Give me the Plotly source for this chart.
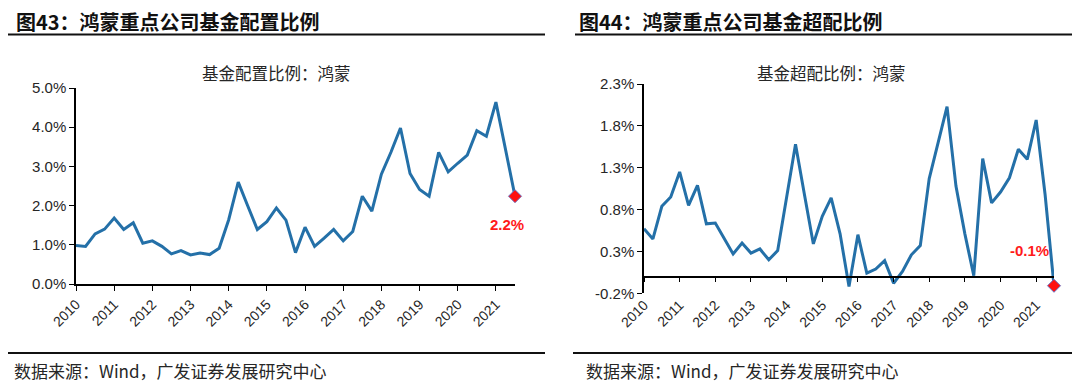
import plotly.graph_objects as go

# ---------------- data ----------------
years = ["2010", "2011", "2012", "2013", "2014", "2015", "2016", "2017", "2018", "2019", "2020", "2021"]
quarters = [f"{y}Q{q}" for y in range(2010, 2022) for q in range(1, 5)][:47]  # 2010Q1 .. 2021Q3

alloc = [0.98, 0.96, 1.28, 1.40, 1.68, 1.39, 1.56, 1.04, 1.10, 0.96, 0.77, 0.85,
         0.74, 0.79, 0.75, 0.91, 1.64, 2.60, 1.99, 1.39, 1.59, 1.94, 1.63, 0.80,
         1.45, 0.96, 1.17, 1.39, 1.10, 1.34, 2.24, 1.86, 2.80, 3.36, 3.98, 2.82,
         2.41, 2.24, 3.36, 2.86, 3.08, 3.29, 3.91, 3.77, 4.64, 3.44, 2.24]

over = [0.57, 0.45, 0.84, 0.95, 1.25, 0.85, 1.09, 0.63, 0.64, 0.46, 0.27, 0.40,
        0.28, 0.33, 0.20, 0.31, 0.92, 1.58, 0.98, 0.39, 0.72, 0.94, 0.51, -0.12,
        0.50, 0.04, 0.09, 0.19, -0.08, 0.06, 0.26, 0.37, 1.17, 1.61, 2.03, 1.08,
        0.51, 0.01, 1.41, 0.88, 1.01, 1.18, 1.52, 1.40, 1.87, 0.98, -0.11]

left_yticks = [0, 1, 2, 3, 4, 5]
right_yticks = [-0.2, 0.3, 0.8, 1.3, 1.8, 2.3]

title_left = "图43：鸿蒙重点公司基金配置比例"
title_right = "图44：鸿蒙重点公司基金超配比例"
sub_left = "基金配置比例：鸿蒙"
sub_right = "基金超配比例：鸿蒙"
source = "数据来源：Wind，广发证券发展研究中心"

# ---------------- figure ----------------
OFF = 8  # page body margin
W, H = 1080 - OFF, 388 - OFF
def px(x):
    return (x - OFF) / W
def py(y):
    return (H - (y - OFF)) / H

xi = list(range(len(quarters)))
tickvals = xi[::4]
LINE = "#2470A8"
TXT = "#262626"
CJK = "Noto Sans CJK SC"
LAT = "Liberation Sans, Arial, sans-serif"

fig = go.Figure()
fig.add_trace(go.Scatter(x=xi, y=alloc, mode="lines", line=dict(color=LINE, width=3),
                         xaxis="x", yaxis="y", hoverinfo="skip", showlegend=False))
fig.add_trace(go.Scatter(x=[xi[-1]], y=[alloc[-1]], mode="markers", cliponaxis=False,
                         marker=dict(symbol="diamond", size=10, color="#FF1010",
                                     line=dict(color="#6A6FC0", width=1)),
                         xaxis="x", yaxis="y", showlegend=False))
fig.add_trace(go.Scatter(x=xi, y=over, mode="lines", line=dict(color=LINE, width=3),
                         xaxis="x2", yaxis="y2", hoverinfo="skip", showlegend=False))
fig.add_trace(go.Scatter(x=[xi[-1]], y=[over[-1]], mode="markers", cliponaxis=False,
                         marker=dict(symbol="diamond", size=10, color="#FF1010",
                                     line=dict(color="#6A6FC0", width=1)),
                         xaxis="x2", yaxis="y2", showlegend=False))
# invisible trace for the zero-line axis overlay
fig.add_trace(go.Scatter(x=[xi[0]], y=[0], mode="markers", marker=dict(opacity=0),
                         xaxis="x3", yaxis="y2", hoverinfo="skip", showlegend=False))

axis_base = dict(showgrid=False, zeroline=False, linecolor="#000000", linewidth=1.5,
                 tickcolor="#000000", ticklen=5, tickwidth=1.2, automargin=False)

y_dom_l = [py(284), py(88)]
y_dom_r = [py(293.3), py(84)]
xr = [0, len(xi) - 1]
zero_pos = y_dom_r[0] + (0 - right_yticks[0]) / (right_yticks[-1] - right_yticks[0]) * (y_dom_r[1] - y_dom_r[0])

fig.update_layout(
    template="none",
    width=W, height=H, margin=dict(l=0, r=0, t=0, b=0, pad=0), autosize=False,
    paper_bgcolor="white", plot_bgcolor="white", showlegend=False,
    xaxis=dict(domain=[px(76), px(515)], anchor="y", range=xr, tickmode="array",
               tickvals=tickvals, ticktext=years, tickangle=-45, showline=True, ticks="outside",
               tickfont=dict(family=LAT, size=14, color=TXT), **axis_base),
    yaxis=dict(domain=y_dom_l, anchor="x", range=[0, 5], tickmode="array",
               tickvals=left_yticks, ticktext=[f"{v:.1f}%" for v in left_yticks],
               showline=True, ticks="outside",
               tickfont=dict(family=LAT, size=15, color=TXT), **axis_base),
    xaxis2=dict(domain=[px(644), px(1054)], anchor="y2", range=xr, tickmode="array",
                tickvals=tickvals, ticktext=years, tickangle=-45, showline=False, ticks="",
                showgrid=False, zeroline=False, automargin=False,
                tickfont=dict(family=LAT, size=14, color=TXT)),
    xaxis3=dict(overlaying="x2", anchor="free", position=zero_pos,
                range=xr, tickmode="array", tickvals=tickvals, showticklabels=False,
                showline=True, ticks="outside", **axis_base),
    yaxis2=dict(domain=y_dom_r, anchor="x2", range=[right_yticks[0], right_yticks[-1]],
                tickmode="array", tickvals=right_yticks,
                ticktext=[f"{v:.1f}%" for v in right_yticks],
                showline=True, ticks="outside",
                tickfont=dict(family=LAT, size=15, color=TXT), **axis_base),
)

ann = []
ann.append(dict(text=f"<b>{title_left}</b>", x=px(14), y=py(21.5), xref="paper", yref="paper",
                xanchor="left", yanchor="middle", showarrow=False,
                font=dict(family=CJK, size=20, color="#111111")))
ann.append(dict(text=f"<b>{title_right}</b>", x=px(577), y=py(21.5), xref="paper", yref="paper",
                xanchor="left", yanchor="middle", showarrow=False,
                font=dict(family=CJK, size=20, color="#111111")))
ann.append(dict(text=sub_left, x=px(276), y=py(73), xref="paper", yref="paper",
                xanchor="center", yanchor="middle", showarrow=False,
                font=dict(family=CJK, size=16.5, color=TXT)))
ann.append(dict(text=sub_right, x=px(831), y=py(73), xref="paper", yref="paper",
                xanchor="center", yanchor="middle", showarrow=False,
                font=dict(family=CJK, size=16.5, color=TXT)))
ann.append(dict(text=source, x=px(12), y=py(370), xref="paper", yref="paper",
                xanchor="left", yanchor="middle", showarrow=False,
                font=dict(family=CJK, size=17, color=TXT)))
ann.append(dict(text=source, x=px(584), y=py(370), xref="paper", yref="paper",
                xanchor="left", yanchor="middle", showarrow=False,
                font=dict(family=CJK, size=17, color=TXT)))
# value labels on last points
ann.append(dict(text=f"<b>{alloc[-1]:.1f}%</b>", x=xi[-1], y=alloc[-1], xref="x", yref="y",
                xanchor="center", yanchor="middle", xshift=-8, yshift=-28, showarrow=False,
                font=dict(family=LAT, size=15, color="#FF1A1A")))
ann.append(dict(text=f"<b>{over[-1]:.1f}%</b>", x=xi[-1], y=over[-1], xref="x2", yref="y2",
                xanchor="center", yanchor="middle", xshift=-25, yshift=35, showarrow=False,
                font=dict(family=LAT, size=15, color="#FF1A1A")))
fig.update_layout(annotations=ann)

shapes = []
for x0, x1 in [(OFF, 545), (575, 1080)]:
    shapes.append(dict(type="line", xref="paper", yref="paper", x0=px(x0), x1=px(x1),
                       y0=py(34.5), y1=py(34.5), line=dict(color="#111111", width=2)))
for x0, x1 in [(OFF, 545), (573, 1080)]:
    shapes.append(dict(type="line", xref="paper", yref="paper", x0=px(x0), x1=px(x1),
                       y0=py(353), y1=py(353), line=dict(color="#111111", width=2)))
fig.update_layout(shapes=shapes)

fig.write_html("out.html")
